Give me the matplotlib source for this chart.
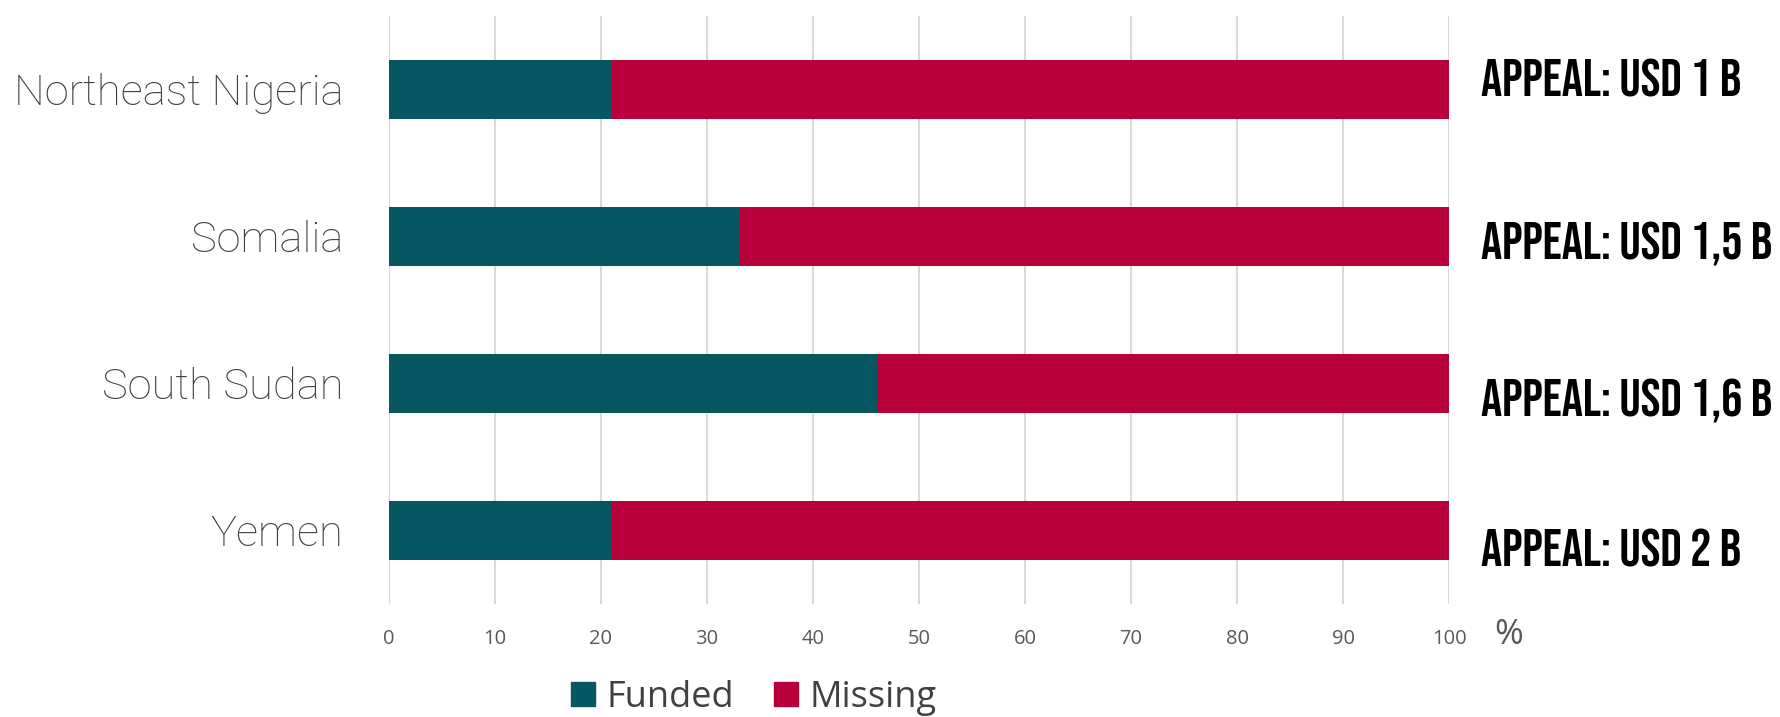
import matplotlib
matplotlib.use("Agg")
import matplotlib.pyplot as plt
from matplotlib.patches import Patch

regions = ["Northeast Nigeria", "Somalia", "South Sudan", "Yemen"]
funded = [21, 33, 46, 21]
missing = [100 - f for f in funded]
appeals = ["APPEAL: USD 1 B", "APPEAL: USD 1,5 B", "APPEAL: USD 1,6 B", "APPEAL: USD 2 B"]
xticks = list(range(0, 101, 10))

# baseline of each appeal label, pixels below the bar centre
appeal_drop_px = [7.5, 23.5, 33.5, 36.5]

teal = "#075763"
red = "#B8003A"
grid = "#D9D9D9"

fig = plt.figure(figsize=(17.81, 7.17), dpi=100)
ax = fig.add_axes([0.2184, 0.1576, 0.5952, 0.8201])

ax.barh(regions, funded, height=0.4, color=teal, zorder=3)
ax.barh(regions, missing, left=funded, height=0.4, color=red, zorder=3)

ax.set_xlim(0, 100)
ax.set_ylim(3.5, -0.5)
ax.set_xticks(xticks)
ax.grid(axis="x", color=grid, linewidth=1.5, zorder=0)
for s in ax.spines.values():
    s.set_visible(False)
ax.tick_params(axis="y", length=0, pad=33, labelsize=31.3, labelcolor="#404040")
ax.tick_params(axis="x", length=0, pad=18, labelsize=14.5, labelcolor="#595959")
for t in ax.get_yticklabels():
    t.set_fontfamily("Roboto")
    t.set_fontweight("light")
for t in ax.get_xticklabels():
    t.set_fontfamily("Open Sans")

ax.text(1.043, -0.053, "%", transform=ax.transAxes, fontsize=25, color="#595959",
        fontfamily="Open Sans", ha="left", va="center")

for i, txt in enumerate(appeals):
    ax.annotate(txt, xy=(1.030, i), xycoords=ax.get_yaxis_transform(),
                xytext=(0, -appeal_drop_px[i] * 0.72), textcoords="offset points",
                fontsize=38, fontfamily="Bebas Neue", color="black",
                ha="left", va="baseline", annotation_clip=False)

handles = [Patch(color=teal, label="Funded"), Patch(color=red, label="Missing")]
fig.legend(handles=handles, loc="lower center", bbox_to_anchor=(0.4234, -0.044), ncol=2,
           frameon=False, prop={"family": "Open Sans", "size": 26}, labelcolor="#404040",
           handlelength=0.65, handleheight=0.65, columnspacing=1.1, handletextpad=0.33)

fig.savefig("out.png", dpi=100)
